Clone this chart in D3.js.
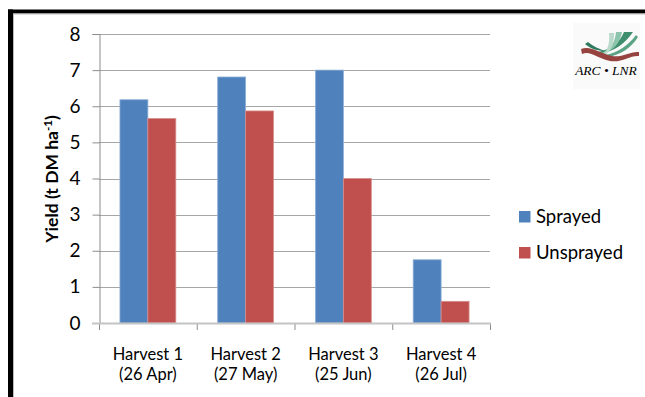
<!DOCTYPE html>
<html>
<head>
<meta charset="utf-8">
<script src="https://cdn.jsdelivr.net/npm/d3@7"></script>
<style>
  html, body { margin: 0; padding: 0; background: #fff; }
  svg { display: block; }
  text { font-family: Lato, "Open Sans", sans-serif; fill: #000; }
</style>
</head>
<body>
<svg id="chart" width="645" height="397"></svg>
<script>
// Yield per harvest, sprayed vs unsprayed
const categories = ["Harvest 1", "Harvest 2", "Harvest 3", "Harvest 4"];
const harvestDates = ["(26 Apr)", "(27 May)", "(25 Jun)", "(26 Jul)"];
const seriesNames = ["Sprayed", "Unsprayed"];
const sprayed = [6.18, 6.81, 7.0, 1.75];
const unsprayed = [5.66, 5.87, 4.0, 0.6];
const yTicks = [0, 1, 2, 3, 4, 5, 6, 7, 8];
const colors = ["#4F81BD", "#C0504D"];
const edgeColors = ["#8eafd6", "#d68e8c"];

const svg = d3.select("#chart");

// frame
svg.append("rect").attr("x", 0).attr("y", 0).attr("width", 645).attr("height", 397).attr("fill", "#fff");
svg.append("line").attr("x1", 8).attr("x2", 645).attr("y1", 11.5).attr("y2", 11.5)
  .attr("stroke", "#000").attr("stroke-width", 4);
svg.append("line").attr("x1", 10.5).attr("x2", 10.5).attr("y1", 9.5).attr("y2", 397)
  .attr("stroke", "#000").attr("stroke-width", 5);
svg.append("line").attr("x1", 13).attr("x2", 645).attr("y1", 14).attr("y2", 14)
  .attr("stroke", "#bbb").attr("stroke-width", 1);
svg.append("line").attr("x1", 13.5).attr("x2", 13.5).attr("y1", 14).attr("y2", 397)
  .attr("stroke", "#bbb").attr("stroke-width", 1);

const plot = { left: 99, right: 490, top: 34, bottom: 323 };

const y = d3.scaleLinear().domain([0, 8]).range([plot.bottom, plot.top]);
const x0 = d3.scaleBand().domain(categories).range([plot.left, plot.right]).paddingInner(0).paddingOuter(0);
const x1 = d3.scaleBand().domain(seriesNames).range([0, x0.bandwidth()]).paddingInner(0).paddingOuter(0.75);

// gridlines
svg.append("g").selectAll("line").data(yTicks.filter(d => d > 0)).join("line")
  .attr("x1", plot.left).attr("x2", plot.right)
  .attr("y1", d => Math.round(y(d)) + 0.5).attr("y2", d => Math.round(y(d)) + 0.5)
  .attr("stroke", "#a6a6a6").attr("stroke-width", 1.2);

// bars
const rows = categories.map((c, i) => ({ cat: c, vals: [sprayed[i], unsprayed[i]] }));
const groups = svg.append("g").selectAll("g").data(rows).join("g")
  .attr("transform", d => `translate(${x0(d.cat)},0)`);
groups.selectAll("rect").data(d => d.vals.map((v, j) => ({ v, j }))).join("rect")
  .attr("x", d => x1(seriesNames[d.j]))
  .attr("width", x1.bandwidth())
  .attr("y", d => y(d.v))
  .attr("height", d => y(0) - y(d.v))
  .attr("fill", d => colors[d.j])
  .attr("stroke", d => edgeColors[d.j])
  .attr("stroke-width", 0.8);

// y axis
const yAxis = svg.append("g").attr("transform", `translate(${plot.left + 0.5},0)`)
  .call(d3.axisLeft(y).tickValues(yTicks).tickSize(7).tickPadding(12).tickFormat(d3.format("d")));
yAxis.select(".domain").attr("stroke", "#8c8c8c").attr("stroke-width", 1);
yAxis.selectAll(".tick line").attr("stroke", "#8c8c8c");
yAxis.selectAll(".tick text").style("font-size", "19px").attr("fill", "#000")
  .style("font-family", "Lato, 'Open Sans', sans-serif");

// x axis (category boundaries)
const xb = d3.scaleLinear().domain([0, categories.length]).range([plot.left, plot.right]);
const xAxis = svg.append("g").attr("transform", `translate(0,${plot.bottom})`)
  .call(d3.axisBottom(xb).tickValues(d3.range(categories.length + 1)).tickSize(7).tickFormat(""));
xAxis.select(".domain").remove();
xAxis.selectAll(".tick line").attr("stroke", "#8c8c8c");
svg.append("line").attr("x1", 92).attr("x2", plot.right + 1).attr("y1", plot.bottom + 0.5).attr("y2", plot.bottom + 0.5)
  .attr("stroke", "#c4c4c4").attr("stroke-width", 2);

// category labels, two lines: name and harvest date
const labels = svg.append("g");
labels.selectAll("text.name").data(categories).join("text")
  .attr("class", "name")
  .attr("x", d => x0(d) + x0.bandwidth() / 2)
  .attr("y", 360)
  .attr("text-anchor", "middle")
  .style("font-size", "16.5px")
  .text(d => d);
labels.selectAll("text.date").data(categories).join("text")
  .attr("class", "date")
  .attr("x", d => x0(d) + x0.bandwidth() / 2)
  .attr("y", 380)
  .attr("text-anchor", "middle")
  .style("font-size", "16.5px")
  .text((d, i) => harvestDates[i]);

// y axis title
const yt = svg.append("text")
  .attr("transform", "translate(58,179) rotate(-90)")
  .attr("text-anchor", "middle")
  .style("font-size", "17.5px").style("font-weight", "bold");
yt.append("tspan").text("Yield (t DM ha");
yt.append("tspan").attr("dy", -6).style("font-size", "11.5px").text("-1");
yt.append("tspan").attr("dy", 6).text(")");

// legend
const leg = svg.append("g").selectAll("g").data(seriesNames).join("g")
  .attr("transform", (d, i) => `translate(519,${211 + i * 36})`);
leg.append("rect").attr("width", 11.5).attr("height", 11.5).attr("fill", (d, i) => colors[i]);
leg.append("text").attr("x", 17).attr("y", 12).style("font-size", "18.5px").text(d => d);

// ARC-LNR logo
const logo = svg.append("g");
logo.append("rect").attr("x", 573).attr("y", 23).attr("width", 67).attr("height", 66).attr("fill", "#fafafa");
logo.append("path").attr("d", "M585,44 C591,49 598,51 605,51 C600,49 594,47 588,42 Z").attr("fill", "#2e7a5c");
logo.append("path").attr("d", "M598,52 C612,49 620,42 624,32 L633,32 C625,44 614,51 600,54 Z").attr("fill", "#3f8f6e");
logo.append("path").attr("d", "M601,53 C611,50 615,42 616,32 L622,32 C620,44 612,51 603,54 Z").attr("fill", "#8cc4ac");
logo.append("path").attr("d", "M603,54 C608,50 610,42 609,33 L614,33 C614,44 611,51 605,55 Z").attr("fill", "#b9dacb");
logo.append("path").attr("d", "M606,55 C618,52 628,46 636,35 L638,37 C631,48 620,55 608,57 Z").attr("fill", "#5aa385");
logo.append("path").attr("d", "M581,49 C590,45 600,53 612,56 C622,58 630,51 639,52 L639,56 C630,55 622,63 610,61 C597,58 590,50 582,54 Z")
  .attr("fill", "#96433f");
logo.append("text").attr("x", 606).attr("y", 74.5).attr("text-anchor", "middle")
  .style("font-family", "'Liberation Serif', serif").style("font-style", "italic")
  .style("font-size", "13.5px").attr("fill", "#9a3c3a").text("ARC • LNR");
</script>
</body>
</html>
